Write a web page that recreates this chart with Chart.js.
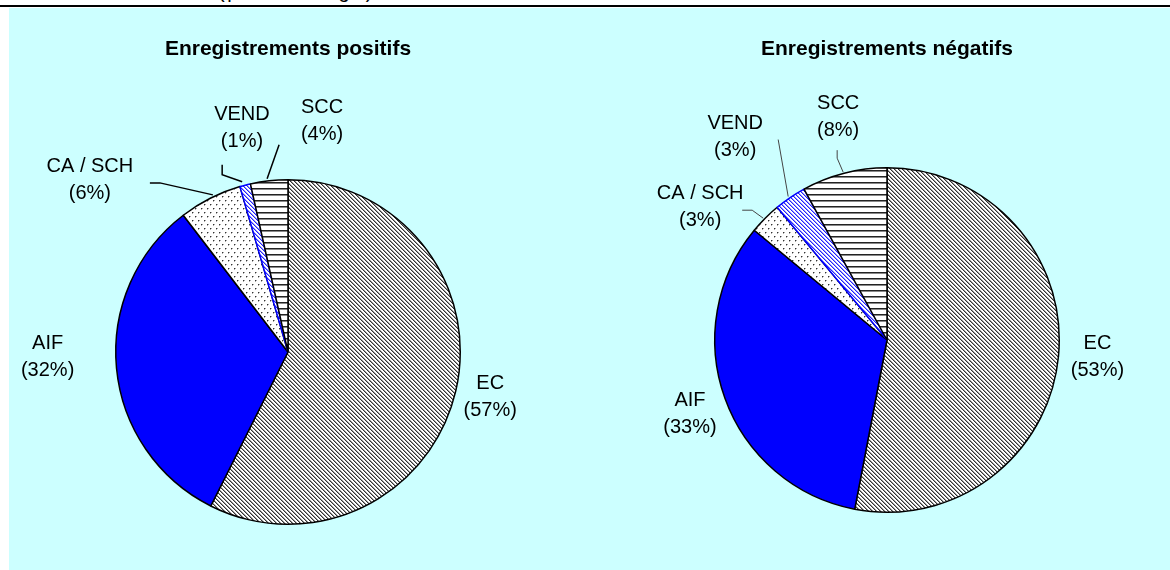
<!DOCTYPE html>
<html>
<head>
<meta charset="utf-8">
<script src="https://cdn.jsdelivr.net/npm/chart.js@4.4.1/dist/chart.umd.min.js"></script>
<style>
  body { margin: 0; width: 1170px; height: 570px; overflow: hidden; background: #fff; position: relative;
         font-family: "Liberation Sans", Arial, sans-serif; }
  .rule  { position: absolute; left: 0; top: 5px; width: 1170px; height: 2px; background: #000; }
  .head  { position: absolute; left: 218px; top: -20px; font-size: 20px; letter-spacing: 2.5px; white-space: nowrap; }
  .panel { position: absolute; left: 9px; top: 8px; width: 1161px; height: 562px; background: #ccffff; }
  canvas { position: absolute; }
</style>
</head>
<body>
<div class="head">(pourcentage)</div>
<div class="rule"></div>
<div class="panel"></div>
<canvas id="pie-pos" width="576" height="562" style="left:9px;top:8px"></canvas>
<canvas id="pie-neg" width="585" height="562" style="left:585px;top:8px"></canvas>

<script>
/* ─── Data ───────────────────────────────────────────────────────────────── */
const categories     = ['EC', 'AIF', 'CA / SCH', 'VEND', 'SCC'];
const positiveVals   = [57.4, 32.2, 5.9, 1.0, 3.5];
const positiveLabels = ['57%', '32%', '6%', '1%', '4%'];
const negativeVals   = [53, 33, 3, 3, 8];
const negativeLabels = ['53%', '33%', '3%', '3%', '8%'];
const titles         = ['Enregistrements positifs', 'Enregistrements négatifs'];

/* ─── Fill patterns ──────────────────────────────────────────────────────── */
function tile(w, h, paint) {
  const c = document.createElement('canvas');
  c.width = w; c.height = h;
  const g = c.getContext('2d');
  g.fillStyle = '#fff';
  g.fillRect(0, 0, w, h);
  paint(g);
  return c;
}
function px(g, x, y, col) { g.fillStyle = col; g.fillRect(x, y, 1, 1); }

function diagonal(dark, light) {
  return tile(4, 4, g => {
    for (let y = 0; y < 4; y++) for (let x = 0; x < 4; x++) {
      const k = (x - y + 8) % 4;
      if (k === 0) px(g, x, y, dark);
      else if (k === 1) px(g, x, y, light);
    }
  });
}
const dots = () => tile(6, 8, g => {
  [[0, 0], [3, 4]].forEach(([x, y]) => {
    px(g, x, y, '#333');
    px(g, x + 1, y, '#aaa');
    px(g, x, y + 1, '#aaa');
  });
});
const hlines = () => tile(4, 6, g => {
  g.fillStyle = '#222'; g.fillRect(0, 0, 4, 1);
  g.fillStyle = '#888'; g.fillRect(0, 1, 4, 1);
});

function fills(ctx) {
  return [
    ctx.createPattern(diagonal('#333', '#999'), 'repeat'),
    '#0000ff',
    ctx.createPattern(dots(), 'repeat'),
    ctx.createPattern(diagonal('#2222ff', '#9999ff'), 'repeat'),
    ctx.createPattern(hlines(), 'repeat')
  ];
}

/* ─── Slice labels + leader lines ────────────────────────────────────────── */
const sliceLabels = {
  id: 'sliceLabels',
  afterDatasetsDraw(chart, args, opts) {
    const { ctx } = chart;
    const meta = chart.getDatasetMeta(0);
    ctx.save();
    meta.data.forEach((arc, i) => {
      const mid = (arc.startAngle + arc.endAngle) / 2;
      const ax = arc.x + Math.cos(mid) * arc.outerRadius;
      const ay = arc.y + Math.sin(mid) * arc.outerRadius;
      const lead = opts.leaders[i];
      if (lead) {
        ctx.strokeStyle = opts.leaderColor;
        ctx.lineWidth = opts.leaderWidth;
        ctx.beginPath();
        lead.forEach(([lx, ly], k) => k ? ctx.lineTo(ax + lx, ay + ly) : ctx.moveTo(ax + lx, ay + ly));
        ctx.stroke();
      }
      const [dx, dy] = opts.offsets[i];
      ctx.fillStyle = '#000';
      ctx.font = '20px "Liberation Sans", Arial, sans-serif';
      ctx.textAlign = 'center';
      ctx.textBaseline = 'middle';
      ctx.fillText(chart.data.labels[i], ax + dx, ay + dy - 13.5);
      ctx.fillText(`(${opts.pcts[i]})`, ax + dx, ay + dy + 13.5);
    });
    ctx.font = 'bold 21px "Liberation Sans", Arial, sans-serif';
    ctx.textAlign = 'center';
    ctx.textBaseline = 'middle';
    ctx.fillStyle = '#000';
    ctx.fillText(opts.title, meta.data[0].x, opts.titleY);
    ctx.restore();
  }
};

function makePie(id, values, title, padding, labelOpts) {
  const canvas = document.getElementById(id);
  const ctx = canvas.getContext('2d');
  return new Chart(canvas, {
    type: 'pie',
    data: {
      labels: categories,
      datasets: [{
        data: values,
        backgroundColor: fills(ctx),
        borderColor: ['#000', '#000', '#000', '#0000ff', '#000'],
        borderWidth: 1.5
      }]
    },
    options: {
      responsive: false,
      devicePixelRatio: 1,
      animation: false,
      layout: { padding },
      plugins: {
        legend: { display: false },
        tooltip: { enabled: false },
        sliceLabels: Object.assign({ title, titleY: 41 }, labelOpts)
      }
    },
    plugins: [sliceLabels]
  });
}

/* ─── Charts ─────────────────────────────────────────────────────────────── */
makePie('pie-pos', positiveVals, titles[0],
  { left: 106, right: 124, top: 171, bottom: 45 },
  {
    pcts: positiveLabels,
    leaderColor: '#000', leaderWidth: 1.5,
    offsets: [[34.6, 4.9], [-68.9, -10.9], [-120.4, -18.4], [-3.2, -57], [52.9, -60]],
    leaders: [null, null,
      [[-60.4, -15.4], [-50.4, -15.4], [2.6, -3.4]],
      [[-23, -20.4], [-23, -10.4], [-3, -3.4]],
      [[10, -36], [-2, -2]]]
  });

makePie('pie-neg', negativeVals, titles[1],
  { left: 129, right: 110, top: 159, bottom: 57 },
  {
    pcts: negativeLabels,
    leaderColor: '#444', leaderWidth: 1,
    offsets: [[39, 0.5], [-35, 15.5], [-65, -11.5], [-55, -61], [-6, -56.5]],
    leaders: [null, null,
      [[-23, -8], [-13, -8], [-2, 0]],
      [[-12, -58], [-2, -1]],
      [[-7, -23], [-7, -15], [-1, -1]]]
  });
</script>
</body>
</html>
